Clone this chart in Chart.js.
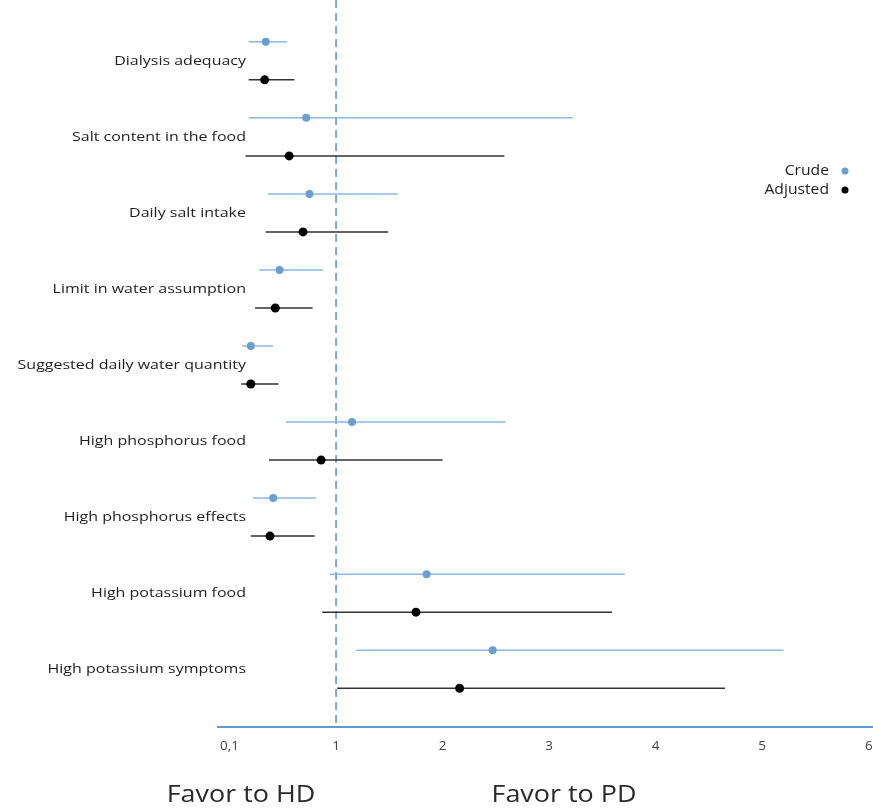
<!DOCTYPE html>
<html>
<head>
<meta charset="utf-8">
<title>Forest plot – HD vs PD</title>
<script src="https://cdn.jsdelivr.net/npm/chart.js@4/dist/chart.umd.min.js"></script>
<style>
  html, body { margin: 0; padding: 0; background: #ffffff; overflow: hidden; }
  #wrap { position: relative; width: 873px; height: 811px; }
</style>
</head>
<body>
<div id="wrap"><canvas id="forest"></canvas></div>
<script>
// Knowledge items compared between dialysis modalities
const categories = [
  'Dialysis adequacy',
  'Salt content in the food',
  'Daily salt intake',
  'Limit in water assumption',
  'Suggested daily water quantity',
  'High phosphorus food',
  'High phosphorus effects',
  'High potassium food',
  'High potassium symptoms'
];

// Crude odds ratios with 95% CI
const crudeOR   = [0.34, 0.72, 0.75, 0.47, 0.20, 1.15, 0.41, 1.85, 2.47];
const crudeLow  = [0.18, 0.18, 0.36, 0.28, 0.12, 0.53, 0.22, 0.94, 1.19];
const crudeHigh = [0.54, 3.22, 1.58, 0.88, 0.41, 2.59, 0.81, 3.71, 5.20];

// Adjusted odds ratios with 95% CI
const adjOR   = [0.33, 0.56, 0.69, 0.43, 0.20, 0.86, 0.38, 1.75, 2.16];
const adjLow  = [0.18, 0.15, 0.34, 0.24, 0.11, 0.37, 0.20, 0.87, 1.01];
const adjHigh = [0.61, 2.58, 1.49, 0.78, 0.46, 2.00, 0.80, 3.59, 4.65];

// X axis ticks
const xTickValues = [0, 1, 2, 3, 4, 5, 6];
const xTickLabels = ['0,1', '1', '2', '3', '4', '5', '6'];

const referenceOR = 1;
const sideLabels = ['Favor to HD', 'Favor to PD'];

const BLUE = '#5b9bd5';
const CRUDE_DOT = '#6a9fd0';
const CRUDE_LINE = '#8db7de';
const ADJ_DOT = '#000000';
const ADJ_LINE = '#333333';
const ROW_SHIFT = 0.25;
const FONT = '"Open Sans", sans-serif';

const Y_MIN = -0.8, Y_MAX = 8.76;

function ciSegments(low, high, shift) {
  const pts = [];
  categories.forEach((_, i) => {
    pts.push({ x: low[i], y: i + shift });
    pts.push({ x: high[i], y: i + shift });
    pts.push({ x: null, y: null });
  });
  return pts;
}

function dots(values, shift) {
  return categories.map((_, i) => ({ x: values[i], y: i + shift }));
}

// text drawn slightly widened, like the rest of the figure's lettering
function wideText(ctx, text, x, y, font, stretch, align) {
  ctx.save();
  ctx.font = font;
  ctx.textAlign = align;
  ctx.textBaseline = 'middle';
  ctx.translate(x, y);
  ctx.scale(stretch, 1);
  ctx.fillText(text, 0, 0);
  ctx.restore();
}

// Category names, tick labels, legend and the HD / PD captions
const annotations = {
  id: 'annotations',
  afterDraw(chart) {
    const ctx = chart.ctx;
    const xs = chart.scales.x;
    const ys = chart.scales.y;
    const area = chart.chartArea;
    ctx.save();

    ctx.fillStyle = '#1e1e1e';
    categories.forEach((name, i) => {
      wideText(ctx, name, area.left + 28, ys.getPixelForValue(i), '13px ' + FONT, 1.23, 'right');
    });

    ctx.fillStyle = '#444444';
    xTickValues.forEach((v, k) => {
      wideText(ctx, xTickLabels[k], xs.getPixelForValue(v), area.bottom + 20, '12px ' + FONT, 1.12, 'center');
    });

    // legend: label text followed by its marker
    const legendItems = chart.data.datasets.filter(d => d.legendMarker);
    legendItems.forEach((d, k) => {
      const ly = 171 + k * 19;
      ctx.fillStyle = '#1e1e1e';
      wideText(ctx, d.label, 829, ly, '14px ' + FONT, 1.12, 'right');
      ctx.beginPath();
      ctx.arc(845, ly, 3.5, 0, Math.PI * 2);
      ctx.fillStyle = d.backgroundColor;
      ctx.fill();
    });

    ctx.fillStyle = '#2a2a2a';
    wideText(ctx, sideLabels[0], 241, 795, '23px ' + FONT, 1.17, 'center');
    wideText(ctx, sideLabels[1], 564, 795, '23px ' + FONT, 1.17, 'center');
    ctx.restore();
  }
};

new Chart(document.getElementById('forest'), {
  type: 'scatter',
  data: {
    datasets: [
      {
        label: 'Crude',
        legendMarker: true,
        data: dots(crudeOR, -ROW_SHIFT),
        backgroundColor: CRUDE_DOT,
        borderColor: CRUDE_DOT,
        pointRadius: 4,
        pointBorderWidth: 0,
        order: 0
      },
      {
        label: 'Adjusted',
        legendMarker: true,
        data: dots(adjOR, ROW_SHIFT),
        backgroundColor: ADJ_DOT,
        borderColor: ADJ_DOT,
        pointRadius: 4.5,
        pointBorderWidth: 0,
        order: 0
      },
      {
        label: 'Crude CI',
        data: ciSegments(crudeLow, crudeHigh, -ROW_SHIFT),
        showLine: true,
        spanGaps: false,
        borderColor: CRUDE_LINE,
        borderWidth: 1.5,
        pointRadius: 0,
        order: 1
      },
      {
        label: 'Adjusted CI',
        data: ciSegments(adjLow, adjHigh, ROW_SHIFT),
        showLine: true,
        spanGaps: false,
        borderColor: ADJ_LINE,
        borderWidth: 1.5,
        pointRadius: 0,
        order: 1
      },
      {
        label: 'No effect',
        data: [{ x: referenceOR, y: Y_MIN }, { x: referenceOR, y: Y_MAX }],
        showLine: true,
        borderColor: BLUE,
        borderWidth: 1.6,
        borderDash: [8, 5],
        pointRadius: 0,
        order: 2
      }
    ]
  },
  options: {
    responsive: true,
    maintainAspectRatio: false,
    animation: false,
    layout: { autoPadding: false, padding: { left: 218, top: 0, right: 0, bottom: 0 } },
    plugins: {
      legend: { display: false },
      tooltip: { enabled: false }
    },
    scales: {
      x: {
        type: 'linear',
        min: -0.108,
        max: 6.04,
        grid: { display: false },
        border: { display: true, color: BLUE, width: 2 },
        afterBuildTicks(scale) {
          scale.ticks = xTickValues.map(v => ({ value: v }));
        },
        afterFit(scale) { scale.height = 84; },
        ticks: { display: false }
      },
      y: {
        type: 'linear',
        display: false,
        reverse: true,
        min: Y_MIN,
        max: Y_MAX
      }
    }
  },
  plugins: [annotations]
});
</script>
</body>
</html>
